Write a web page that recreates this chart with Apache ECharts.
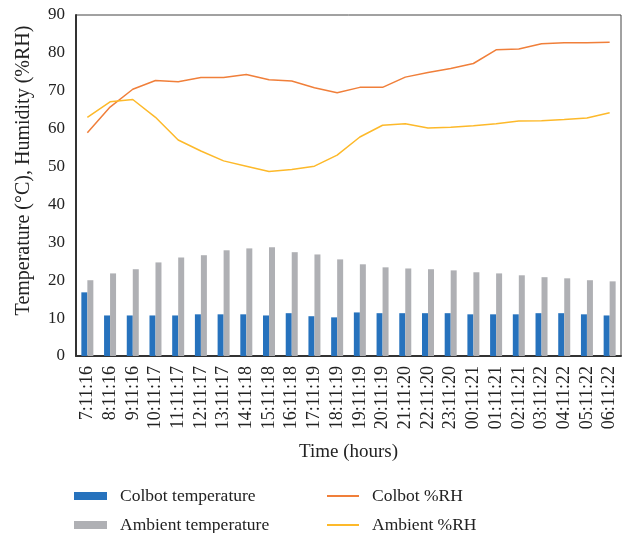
<!DOCTYPE html>
<html>
<head>
<meta charset="utf-8">
<script src="https://cdn.jsdelivr.net/npm/echarts@6/dist/echarts.min.js"></script>
<style>html,body{margin:0;padding:0;background:#fff}#c{width:625px;height:533px}</style>
</head>
<body>
<div id="c"></div>
<script>
const categories = ['7:11:16','8:11:16','9:11:16','10:11:17','11:11:17','12:11:17','13:11:17','14:11:18','15:11:18','16:11:18','17:11:19','18:11:19','19:11:19','20:11:19','21:11:20','22:11:20','23:11:20','00:11:21','01:11:21','02:11:21','03:11:22','04:11:22','05:11:22','06:11:22'];
const colbotTemp = [16.8,10.7,10.7,10.7,10.7,11.0,11.0,11.0,10.7,11.3,10.5,10.2,11.5,11.3,11.3,11.3,11.3,11.0,11.0,11.0,11.3,11.3,11.0,10.7];
const ambientTemp = [20.0,21.8,22.9,24.7,26.0,26.6,27.9,28.4,28.7,27.4,26.8,25.5,24.2,23.4,23.1,22.9,22.6,22.1,21.8,21.3,20.8,20.5,20.0,19.7];
const colbotRH = [58.9,65.7,70.4,72.7,72.4,73.5,73.5,74.3,72.9,72.6,70.8,69.5,70.9,70.9,73.6,74.8,75.9,77.2,80.8,81.0,82.4,82.7,82.7,82.8];
const ambientRH = [63.0,67.1,67.7,63.0,57.0,54.1,51.5,50.1,48.7,49.2,50.1,53.0,57.8,60.9,61.3,60.2,60.4,60.8,61.3,62.0,62.1,62.4,62.8,64.2];
const yTicks = {min: 0, max: 90, interval: 10};

const font = 'Liberation Serif, DejaVu Serif, serif';
const chart = echarts.init(document.getElementById('c'));
chart.setOption({
  animation: false,
  textStyle: {fontFamily: font, color: '#222'},
  grid: {left: 76, right: 4, top: 15, bottom: 177, show: true, borderColor: '#444', borderWidth: 1, outerBoundsMode: 'none', containLabel: false},
  xAxis: {
    type: 'category', data: categories, boundaryGap: true,
    axisLine: {lineStyle: {color: '#333', width: 2}},
    axisTick: {show: false},
    axisLabel: {rotate: 90, fontSize: 18, fontFamily: font, color: '#222', margin: 10, interval: 0},
    name: 'Time (hours)', nameLocation: 'middle', nameGap: 87,
    nameTextStyle: {fontSize: 19, fontFamily: font, color: '#222'}
  },
  yAxis: {
    type: 'value', min: yTicks.min, max: yTicks.max, interval: yTicks.interval,
    splitLine: {show: false},
    axisLine: {show: true, lineStyle: {color: '#333', width: 2}},
    axisTick: {show: false},
    axisLabel: {fontSize: 17, fontFamily: font, color: '#222', margin: 11},
    name: 'Temperature (°C), Humidity (%RH)', nameLocation: 'middle', nameGap: 42,
    nameTextStyle: {fontSize: 20, fontFamily: font, color: '#222', padding: [0, 0, 0, 30]}
  },
  legend: [
    {left: 74, top: 486, height: 80, padding: 0, orient: 'vertical', itemWidth: 33, itemHeight: 8, icon: 'rect', itemGap: 9,
     data: ['Colbot temperature', 'Ambient temperature'],
     textStyle: {fontSize: 17.5, fontFamily: font, color: '#222', lineHeight: 20, padding: [0, 0, 0, 8]}},
    {left: 327, top: 486, height: 80, padding: 0, orient: 'vertical', itemWidth: 32, itemHeight: 2, icon: 'rect', itemGap: 9,
     data: ['Colbot %RH', 'Ambient %RH'],
     textStyle: {fontSize: 17.5, fontFamily: font, color: '#222', lineHeight: 20, padding: [0, 0, 0, 8]}}
  ],
  series: [
    {name: 'Colbot temperature', type: 'bar', data: colbotTemp, barWidth: 6, barGap: '0%', itemStyle: {color: '#2672BD'}},
    {name: 'Ambient temperature', type: 'bar', data: ambientTemp, barWidth: 6, barGap: '0%', itemStyle: {color: '#AFB0B4'}},
    {name: 'Colbot %RH', type: 'line', data: colbotRH, showSymbol: false, symbol: 'none', lineStyle: {color: '#F07F3A', width: 1.5}, itemStyle: {color: '#F07F3A'}},
    {name: 'Ambient %RH', type: 'line', data: ambientRH, showSymbol: false, symbol: 'none', lineStyle: {color: '#FDB92A', width: 1.5}, itemStyle: {color: '#FDB92A'}}
  ]
});
</script>
</body>
</html>
